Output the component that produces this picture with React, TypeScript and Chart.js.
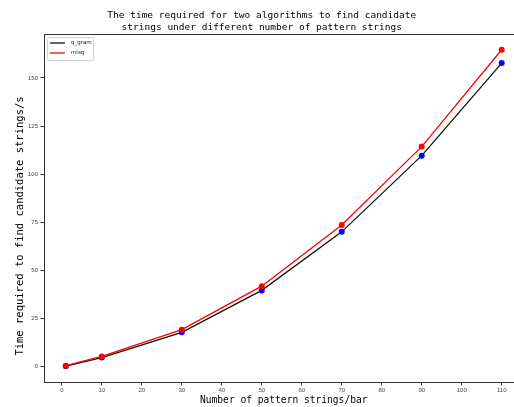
import React, { useEffect, useRef } from "react";
import { Chart, registerables } from "chart.js";

Chart.register(...registerables);

const xValues = [1, 10, 30, 50, 70, 90, 110];
const qGram = [0.2, 4.7, 17.8, 39.6, 70.0, 109.6, 157.7];
const misq = [0.5, 5.3, 19.2, 41.8, 73.6, 114.3, 164.6];
const seriesNames = ["q_gram", "misq"];
const xTicks = [0, 10, 20, 30, 40, 50, 60, 70, 80, 90, 100, 110];
const yTicks = [0, 25, 50, 75, 100, 125, 150];
const titleLines = [
  "The time required for two algorithms to find candidate",
  "strings under different number of pattern strings",
];
const xTitle = "Number of pattern strings/bar";
const yTitle = "Time required to find candidate strings/s";

const CW = 560;
const CH = 407;

const framePlugin = {
  id: "frameLegend",
  afterDraw(chart: any) {
    const { ctx, chartArea: a } = chart;
    ctx.save();
    // axes frame (top + right)
    ctx.strokeStyle = "#333";
    ctx.lineWidth = 1;
    ctx.beginPath();
    ctx.moveTo(a.left, Math.round(a.top) + 0.5);
    ctx.lineTo(a.right, Math.round(a.top) + 0.5);
    ctx.lineTo(a.right, a.bottom);
    ctx.stroke();
    // y axis title
    ctx.save();
    ctx.translate(20, 226);
    ctx.rotate(-Math.PI / 2);
    ctx.fillStyle = "#000";
    ctx.font = "10.5px 'DejaVu Sans Mono'";
    ctx.textAlign = "center";
    ctx.textBaseline = "middle";
    ctx.fillText(yTitle, 0, 0);
    ctx.restore();
    // legend box
    const bx = a.left + 3.5;
    const by = a.top + 3.5;
    const bw = 46;
    const bh = 23;
    ctx.fillStyle = "rgba(255,255,255,0.8)";
    ctx.strokeStyle = "#d0d0d0";
    ctx.lineWidth = 1;
    ctx.beginPath();
    ctx.roundRect(bx, by, bw, bh, 2);
    ctx.fill();
    ctx.stroke();
    const ds = chart.data.datasets;
    ds.forEach((d: any, i: number) => {
      const y = by + 5.5 + i * 10;
      ctx.strokeStyle = d.borderColor;
      ctx.lineWidth = 1.3;
      ctx.beginPath();
      ctx.moveTo(bx + 2.5, y);
      ctx.lineTo(bx + 17.5, y);
      ctx.stroke();
      ctx.fillStyle = "#222";
      ctx.font = "5.5px 'DejaVu Sans'";
      ctx.textBaseline = "middle";
      ctx.textAlign = "left";
      ctx.fillText(d.label, bx + 23.5, y);
    });
    ctx.restore();
  },
};

export default function App() {
  const ref = useRef<HTMLCanvasElement | null>(null);

  useEffect(() => {
    if (!ref.current) return;
    const chart = new Chart(ref.current, {
      type: "line",
      data: {
        datasets: [
          {
            label: seriesNames[0],
            data: xValues.map((x, i) => ({ x, y: qGram[i] })),
            borderColor: "#111111",
            borderWidth: 1.3,
            pointBackgroundColor: "#0000ff",
            pointBorderColor: "#0000ff",
            pointBorderWidth: 0,
            pointRadius: 3,
            order: 1,
          },
          {
            label: seriesNames[1],
            data: xValues.map((x, i) => ({ x, y: misq[i] })),
            borderColor: "#ff0000",
            borderWidth: 1.3,
            pointBackgroundColor: "#ff0000",
            pointBorderColor: "#ff0000",
            pointBorderWidth: 0,
            pointRadius: 3,
            order: 0,
          },
        ],
      },
      options: {
        animation: false,
        responsive: false,
        devicePixelRatio: 1,
        layout: { padding: { left: 0, right: 36.5, top: 0, bottom: 0 } },
        plugins: {
          legend: { display: false },
          tooltip: { enabled: false },
          title: {
            display: true,
            text: titleLines,
            color: "#000",
            font: { family: "'DejaVu Sans Mono'", size: 9.5, weight: "normal", lineHeight: 1.3 },
            padding: { top: 9, bottom: 0.3 },
          },
        },
        scales: {
          x: {
            type: "linear",
            min: -4.45,
            max: 115.45,
            afterFit: (s: any) => {
              s.height = 25;
            },
            afterBuildTicks: (s: any) => {
              s.ticks = xTicks.map((v) => ({ value: v }));
            },
            ticks: {
              color: "#444",
              font: { family: "'Liberation Sans'", size: 6 },
              padding: 1.5,
              maxRotation: 0,
              autoSkip: false,
            },
            grid: {
              display: true,
              drawOnChartArea: false,
              drawTicks: true,
              tickLength: 3.5,
              color: "#333",
            },
            border: { display: true, color: "#333", width: 1 },
            title: {
              display: true,
              text: xTitle,
              color: "#000",
              font: { family: "'DejaVu Sans Mono'", size: 9.6, lineHeight: 1.2 },
              padding: { top: 0, bottom: 1 },
            },
          },
          y: {
            type: "linear",
            min: -8,
            max: 172.8,
            afterFit: (s: any) => {
              s.width = 44;
            },
            afterBuildTicks: (s: any) => {
              s.ticks = yTicks.map((v) => ({ value: v }));
            },
            ticks: {
              color: "#444",
              font: { family: "'Liberation Sans'", size: 6 },
              padding: 2.5,
              autoSkip: false,
            },
            grid: {
              display: true,
              drawOnChartArea: false,
              drawTicks: true,
              tickLength: 3.5,
              color: "#333",
            },
            border: { display: true, color: "#333", width: 1 },
            title: { display: false, text: yTitle },
          },
        },
      },
      plugins: [framePlugin],
    });
    return () => chart.destroy();
  }, []);

  return (
    <div
      style={{
        position: "absolute",
        left: 0,
        top: 0,
        width: 514,
        height: 407,
        overflow: "hidden",
        background: "#fff",
      }}
    >
      <canvas
        ref={ref}
        width={CW}
        height={CH}
        style={{ width: CW, height: CH, display: "block" }}
      />
    </div>
  );
}
